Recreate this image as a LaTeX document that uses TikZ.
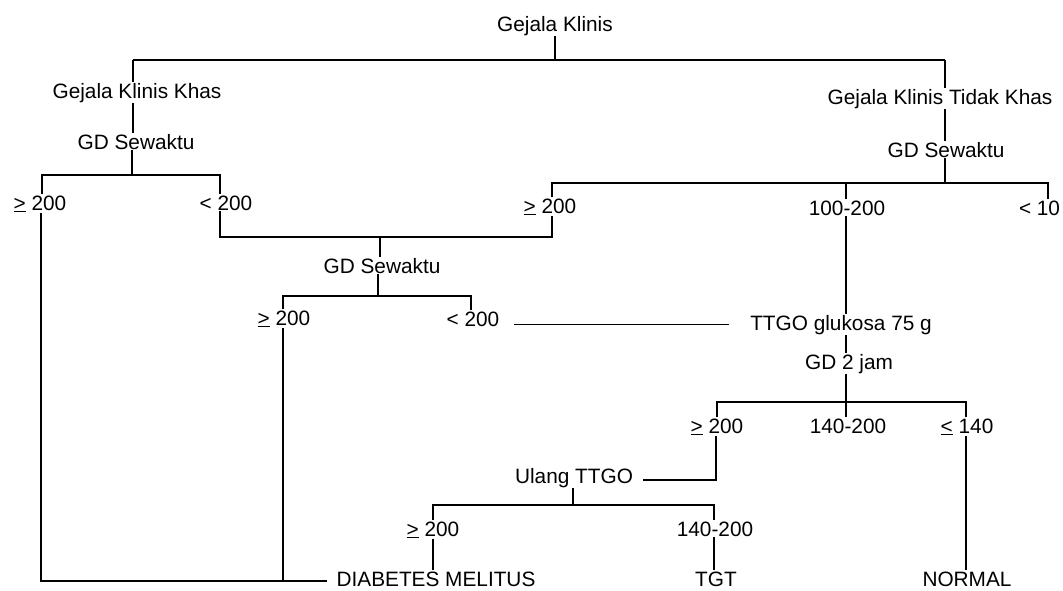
\documentclass[tikz,border=0pt]{standalone}
\usepackage{fontspec}
\setmainfont{Liberation Sans}
\newcommand{\geu}{\underline{>}}
\newcommand{\leu}{\underline{<}}
\begin{document}
\begin{tikzpicture}[x=1pt,y=-1pt,
  lbl/.style={inner sep=1pt, outer sep=0pt, anchor=base, font=\fontsize{20.8}{24}\selectfont},
  conn/.style={line width=1.3pt, black}]
\useasboundingbox (0,0) rectangle (1063,590);
% nodes
\node[lbl] (gk) at (555,31) {Gejala Klinis};
\node[lbl] (gkk) at (137,98) {Gejala Klinis Khas};
\node[lbl] (gdsL) at (136,149) {GD Sewaktu};
\node[lbl] (gktk) at (940,104) {Gejala Klinis Tidak Khas};
\node[lbl] (gdsR) at (946,157) {GD Sewaktu};
\node[lbl] (aL) at (40,210) {\geu{} 200};
\node[lbl] (bL) at (226,210) {< 200};
\node[lbl] (aM) at (550,213) {\geu{} 200};
\node[lbl] (cM) at (847,215) {100-200};
\node[lbl, anchor=base west] (dR) at (1018,215) {< 10};
\node[lbl] (gdsM) at (382,273) {GD Sewaktu};
\node[lbl] (aM2) at (284,325) {\geu{} 200};
\node[lbl] (bM2) at (473,326) {< 200};
\node[lbl] (ttgo) at (841,330) {TTGO glukosa 75 g};
\node[lbl] (gd2) at (849,369) {GD 2 jam};
\node[lbl] (a3) at (717,433) {\geu{} 200};
\node[lbl] (c3) at (848,433) {140-200};
\node[lbl] (e3) at (967,433) {\leu{} 140};
\node[lbl] (ulang) at (574,483) {Ulang TTGO};
\node[lbl] (a4) at (433,536) {\geu{} 200};
\node[lbl] (c4) at (715,536) {140-200};
\node[lbl] (dm) at (436,586) {DIABETES MELITUS};
\node[lbl] (tgt) at (716,586) {TGT};
\node[lbl] (normal) at (967,586) {NORMAL};
% junction coordinates
\coordinate (t1L) at (133,60); \coordinate (t1R) at (945,60);
\coordinate (t2L) at (42,175); \coordinate (t2M) at (132,175); \coordinate (t2R) at (220,175);
\coordinate (dmJ) at (41,581); \coordinate (dmK) at (283,581);
\coordinate (t3L) at (220,237); \coordinate (t3M) at (380,237); \coordinate (t3R) at (552,237);
\coordinate (t4L) at (552,183); \coordinate (t4M) at (846,183); \coordinate (t4J) at (945,183); \coordinate (t4R) at (1048,183);
\coordinate (t5L) at (283,296); \coordinate (t5J) at (378,296); \coordinate (t5R) at (471,296);
\coordinate (t6L) at (717,402); \coordinate (t6M) at (846,402); \coordinate (t6R) at (966,402);
\coordinate (t7) at (716,480);
\coordinate (t8L) at (433,505); \coordinate (t8M) at (573,505); \coordinate (t8R) at (714,505);
% connectors
\draw[conn] (gk.south) -- (gk.south |- t1L);
\draw[conn] (t1L) -- (t1R);
\draw[conn] (t1L) -- (gkk.north -| t1L);
\draw[conn] (gkk.south -| t1L) -- (gdsL.north -| t1L);
\draw[conn] (gdsL.south -| t2M) -- (t2M);
\draw[conn] (aL.north -| t2L) -- (t2L) -- (t2R) -- (bL.north -| t2R);
\draw[conn, shorten >=9pt] (aL.south -| dmJ) -- (dmJ) -- (dm.west |- dmJ);
\draw[conn] (aM2.south -| dmK) -- (dmK);
\draw[conn] (bL.south -| t3L) -- (t3L) -- (t3R) -- (aM.south -| t3R);
\draw[conn] (t3M) -- (gdsM.north -| t3M);
\draw[conn] (t1R) -- (gktk.north -| t1R);
\draw[conn] (gktk.south -| t1R) -- (gdsR.north -| t1R);
\draw[conn] (gdsR.south -| t4J) -- (t4J);
\draw[conn] (aM.north -| t4L) -- (t4L) -- (t4R) -- (dR.north -| t4R);
\draw[conn] (t4M) -- (cM.north -| t4M);
\draw[conn] (gdsM.south -| t5J) -- (t5J);
\draw[conn] (aM2.north -| t5L) -- (t5L) -- (t5R) -- (bM2.north -| t5R);
\draw[conn, shorten <=14pt, shorten >=20pt] ([yshift=-5.5pt]bM2.east) -- ([yshift=-5.5pt]bM2.east -| ttgo.west);
\draw[conn] (cM.south -| t4M) -- (ttgo.north -| t4M);
\draw[conn] (ttgo.south -| t4M) -- (gd2.north -| t4M);
\draw[conn] (gd2.south -| t6M) -- (t6M);
\draw[conn] (a3.north -| t6L) -- (t6L) -- (t6R) -- (e3.north -| t6R);
\draw[conn] (t6M) -- (c3.north -| t6M);
\draw[conn, shorten >=9pt] (a3.south -| t7) -- (t7) -- (t7 -| ulang.east);
\draw[conn] (ulang.south -| t8M) -- (t8M);
\draw[conn] (a4.north -| t8L) -- (t8L) -- (t8R) -- (c4.north -| t8R);
\draw[conn] (a4.south -| t8L) -- (dm.north -| t8L);
\draw[conn] (c4.south -| t8R) -- (tgt.north -| t8R);
\draw[conn] (e3.south -| t6R) -- (normal.north -| t6R);
\end{tikzpicture}
\end{document}
